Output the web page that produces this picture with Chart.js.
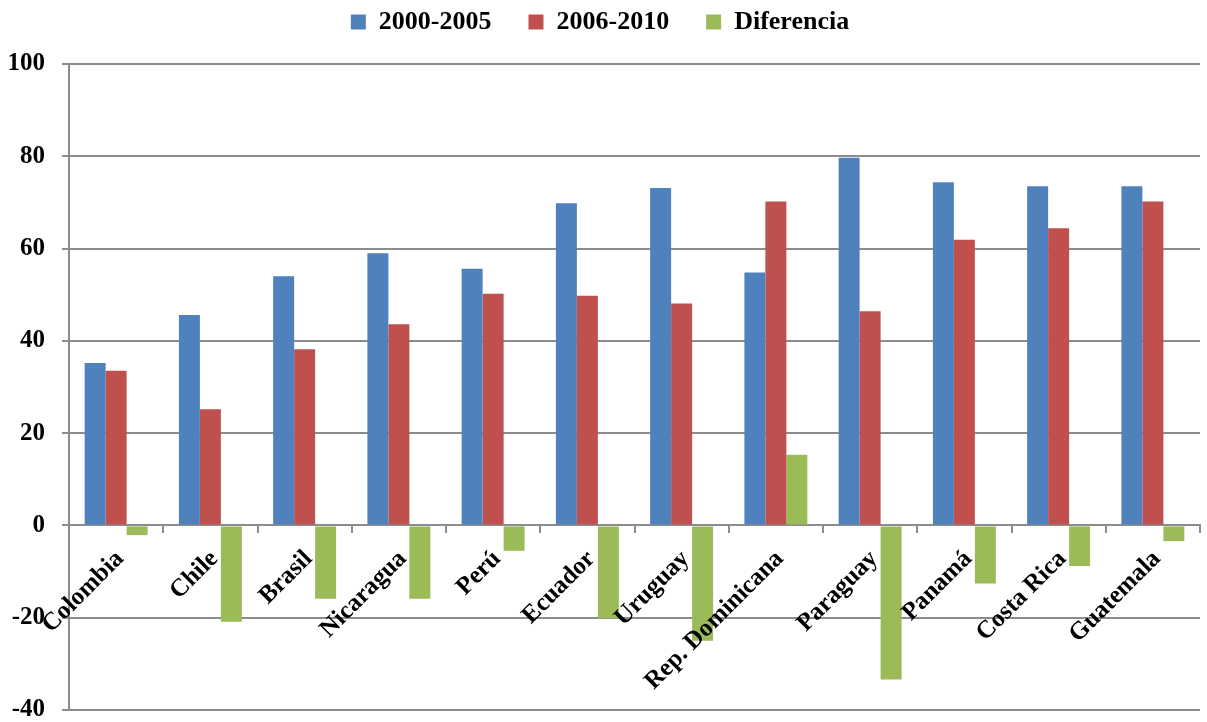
<!DOCTYPE html>
<html>
<head>
<meta charset="utf-8">
<script src="https://cdn.jsdelivr.net/npm/chart.js@4.4.1/dist/chart.umd.min.js"></script>
<style>
  html, body { margin: 0; padding: 0; background: #fff; }
  #wrap { width: 1207px; height: 722px; }
</style>
</head>
<body>
<div id="wrap"><canvas id="myChart"></canvas></div>
<script>
const paises = ['Colombia', 'Chile', 'Brasil', 'Nicaragua', 'Perú', 'Ecuador', 'Uruguay',
    'Rep. Dominicana', 'Paraguay', 'Panamá', 'Costa Rica', 'Guatemala'];
const periodo1 = [35.2, 45.6, 54.0, 59.0, 55.6, 69.8, 73.1, 54.8, 79.7, 74.4, 73.5, 73.5];
const periodo2 = [33.5, 25.2, 38.2, 43.6, 50.2, 49.8, 48.1, 70.2, 46.4, 61.9, 64.4, 70.2];
const diferencia = [-2.1, -20.9, -15.9, -15.9, -5.5, -20.1, -25.0, 15.3, -33.4, -12.6, -8.8, -3.4];
const yTicks = [-40, -20, 0, 20, 40, 60, 80, 100];

const serif = 'Liberation Serif';
const gris = '#8c8c8c';

// legend reserves the space above the plot
const legendHeight = {
    id: 'legendHeight',
    afterInit(chart) {
        const fit = chart.legend.fit;
        chart.legend.fit = function () {
            fit.call(this);
            this.height = 92;
        };
    }
};

document.addEventListener('DOMContentLoaded', function () {
    const ctx = document.getElementById('myChart');

    new Chart(ctx, {
        type: 'bar',
        data: {
            labels: paises,
            datasets: [{
                label: '2000-2005',
                data: periodo1,
                backgroundColor: '#4F81BD',
            }, {
                label: '2006-2010',
                data: periodo2,
                backgroundColor: '#C0504D',
            }, {
                label: 'Diferencia',
                data: diferencia,
                backgroundColor: '#9BBB59',
            }]
        },
        options: {
            responsive: true,
            maintainAspectRatio: false,
            animation: false,
            categoryPercentage: 0.668,
            barPercentage: 1,
            layout: {
                padding: { top: -28, right: 7, bottom: 12, left: 0 }
            },
            plugins: {
                tooltip: { enabled: false },
                legend: {
                    position: 'top',
                    labels: {
                        boxWidth: 15,
                        boxHeight: 15,
                        padding: 37,
                        color: '#000',
                        font: { family: serif, size: 26, weight: 'bold' }
                    }
                }
            },
            scales: {
                x: {
                    // country names sit on the zero line, drawn over the bars
                    position: { y: 0 },
                    grid: {
                        drawOnChartArea: false,
                        color: gris,
                        lineWidth: 2,
                        tickLength: 7,
                        offset: true
                    },
                    border: { color: gris, width: 2 },
                    ticks: {
                        z: 1,
                        minRotation: 45,
                        maxRotation: 45,
                        padding: 12,
                        labelOffset: 4,
                        color: '#000',
                        font: { family: serif, size: 25, weight: 'bold' }
                    }
                },
                y: {
                    min: yTicks[0],
                    max: yTicks[yTicks.length - 1],
                    afterFit: (scale) => {
                        scale.width = 69;
                        scale.paddingBottom = 12;
                    },
                    afterBuildTicks: (scale) => {
                        scale.ticks = yTicks.map(v => ({ value: v }));
                    },
                    grid: {
                        color: gris,
                        lineWidth: 2,
                        tickLength: 7
                    },
                    border: { color: gris, width: 2 },
                    ticks: {
                        padding: 17,
                        color: '#000',
                        font: { family: serif, size: 25, weight: 'bold', lineHeight: 1 }
                    }
                }
            }
        },
        plugins: [legendHeight]
    });
});
</script>
</body>
</html>
